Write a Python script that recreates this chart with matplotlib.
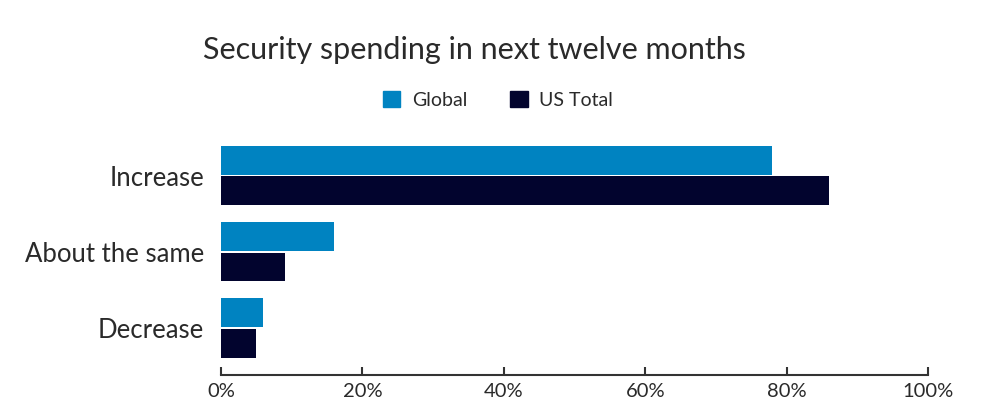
import numpy as np
import matplotlib.pyplot as plt
from matplotlib.patches import Patch

plt.rcParams['font.family'] = ['Lato', 'DejaVu Sans']

# Data
categories = ["Increase", "About the same", "Decrease"]
global_vals = [78, 16, 6]
us_vals = [86, 9, 5]
ticks = [0, 20, 40, 60, 80, 100]

c_global = "#0083c1"
c_us = "#02042e"
c_text = "#2a2a2a"

fig = plt.figure(figsize=(10, 4.2), dpi=100)
ax = fig.add_axes([0.221, 0.107, 0.707, 0.56])

y = np.arange(len(categories))
h = 0.38
ax.barh(y - h / 2 - 0.01, global_vals, height=h, color=c_global)
ax.barh(y + h / 2 + 0.01, us_vals, height=h, color=c_us)

ax.set_xlim(0, 100)
ax.set_ylim(2.62, -0.47)
ax.set_yticks(y)
ax.set_yticklabels(categories, fontsize=18.5, color=c_text)
ax.set_xticks(ticks)
ax.set_xticklabels([f"{t}%" for t in ticks], fontsize=14.5, color=c_text)

for s in ["top", "right", "left"]:
    ax.spines[s].set_visible(False)
ax.spines["bottom"].set_linewidth(1.5)
ax.spines["bottom"].set_color("#333333")
ax.tick_params(axis="y", length=0, pad=12)
ax.tick_params(axis="x", direction="in", length=6, width=1.5, color="#333333", pad=6)

fig.text(0.474, 0.882, "Security spending in next twelve months", ha="center", va="center",
         fontsize=22, color=c_text)

handles = [Patch(color=c_global, label="Global"), Patch(color=c_us, label="US Total")]
leg = fig.legend(handles=handles, loc="center", bbox_to_anchor=(0.498, 0.762), ncol=2, frameon=False,
                 handlelength=0.9, handleheight=0.9, columnspacing=2.2, handletextpad=0.6,
                 fontsize=14)
for t in leg.get_texts():
    t.set_color(c_text)

fig.savefig("out.png", dpi=100)
